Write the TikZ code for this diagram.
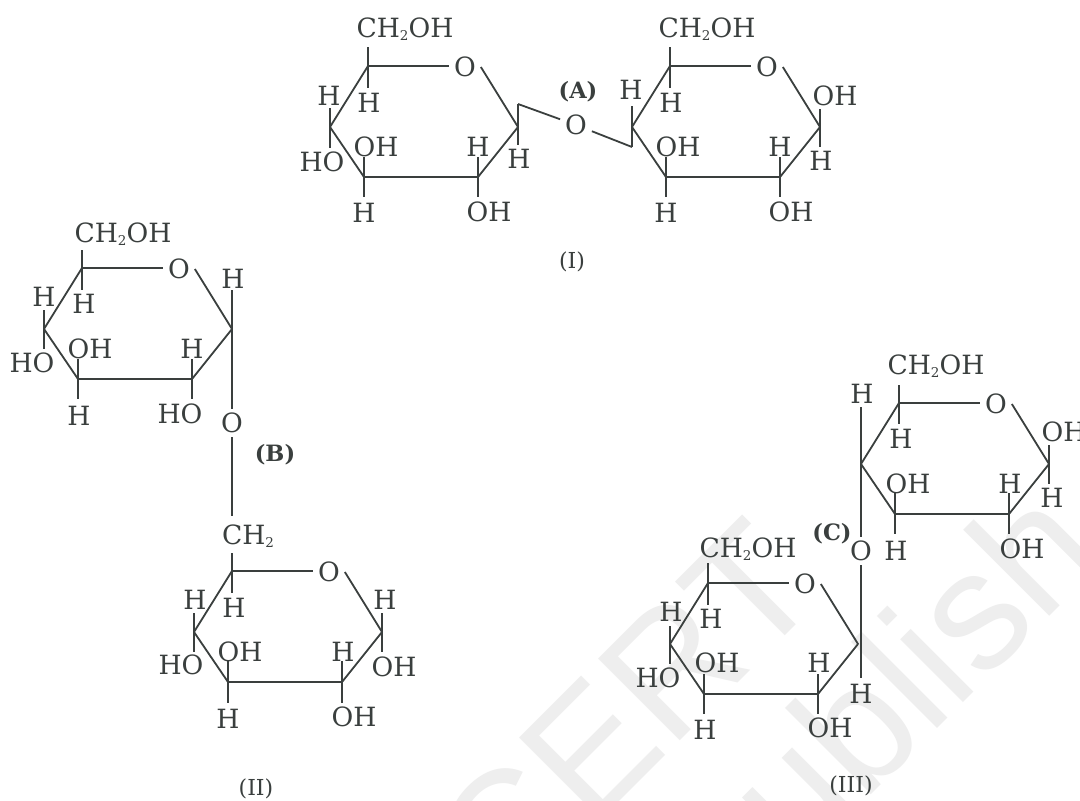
\documentclass[tikz,border=0pt]{standalone}
\usepackage{fontspec}
\setmainfont{DejaVu Serif}
\newfontfamily\wmfont{Liberation Sans}
\definecolor{ink}{HTML}{3A3F3E}
\definecolor{wm}{HTML}{EEEEEE}
\tikzset{
  atom/.style={inner sep=0pt,outer sep=0pt,text=ink,text height=18.5pt,text depth=0pt,anchor=center,font=\fontsize{26.5}{27}\selectfont},
  oxy/.style={atom,inner sep=5pt},
  bond/.style={draw=ink,line width=1.8pt,line join=round},
  thinbond/.style={draw=ink,line width=1.5pt},
  tagtext/.style={inner sep=0pt,text=ink,font=\fontsize{22.5}{24}\selectfont\bfseries},
  captext/.style={inner sep=0pt,text=ink,font=\fontsize{22}{24}\selectfont},
  wmtext/.style={transform shape,inner sep=0pt,text=wm,font=\wmfont\fontsize{168}{168}\selectfont}
}
\newcommand{\ringat}[3]{%
  \begin{scope}[shift={(#2,#3)}]
    \coordinate (#1C1) at (0,0);
    \coordinate (#1R) at (150,61);
    \coordinate (#1BR) at (110,111);
    \coordinate (#1BL) at (-4,111);
    \coordinate (#1L) at (-38,61);
    \node[oxy] (#1O) at (97,1) {O};
  \end{scope}
  \draw[bond] (#1C1) -- (#1C1 -| #1O.west);
  \draw[bond] (#1O.east) -- (#1R) -- (#1BR) -- (#1BL) -- (#1L) -- (#1C1);
}
\newcommand{\stubs}[3]{%
  \draw[thinbond] (#1) -- ++(0,#2) coordinate (#1up);
  \draw[thinbond] (#1) -- ++(0,#3) coordinate (#1dn);
}
\newcommand{\lab}[4]{\node[atom] (#1) at (#2,#3) {#4};}
\newcommand{\chhoh}{CH\raisebox{-3.5pt}{\fontsize{13.5}{14}\selectfont 2}OH}
\begin{document}
\begin{tikzpicture}[x=1pt,y=-1pt]
\useasboundingbox (0,0) rectangle (1080,801);
\clip (0,0) rectangle (1080,801);
\fill[white] (0,0) rectangle (1080,801);
% watermark
\begin{scope}[shift={(827,594)},rotate=45]
  \node[wmtext,anchor=base east] (wmA) at (0,0) {CERT};
\end{scope}
\begin{scope}[shift={(718,948)},rotate=45]
  \node[wmtext,anchor=base west] (wmB) at (0,0) {Publish};
\end{scope}

% ---------- I
\ringat{a}{368}{66}
\stubs{aC1}{-19}{22}\stubs{aL}{-19}{21}\stubs{aBL}{-20}{20}\stubs{aBR}{-20}{20}\stubs{aR}{-23}{18}
\lab{a1}{405}{28}{\chhoh}
\lab{a2}{369}{103}{H}
\lab{a3}{329}{96}{H}
\lab{a4}{322}{162}{HO}
\lab{a5}{376}{147}{OH}
\lab{a6}{364}{213}{H}
\lab{a7}{478}{147}{H}
\lab{a8}{489}{212}{OH}
\lab{a9}{519}{159}{H}
\ringat{b}{670}{66}
\stubs{bC1}{-19}{22}\stubs{bL}{-21}{20}\stubs{bBL}{-20}{20}\stubs{bBR}{-20}{20}\stubs{bR}{-18}{20}
\lab{b1}{707}{28}{\chhoh}
\lab{b2}{671}{103}{H}
\lab{b3}{631}{90}{H}
\lab{b5}{678}{147}{OH}
\lab{b6}{666}{213}{H}
\lab{b7}{780}{147}{H}
\lab{b8}{791}{212}{OH}
\lab{b9}{835}{96}{OH}
\lab{b10}{821}{161}{H}
\node[oxy] (lk1) at (576,125) {O};
\draw[bond] (aRup) -- (lk1);
\draw[bond] (lk1) -- (bLdn);
\node[tagtext] (tagA) at (578,92) {(A)};
\node[captext] (capI) at (572,262) {(I)};

% ---------- II
\ringat{c}{82}{268}
\stubs{cC1}{-18}{22}\stubs{cL}{-19}{20}\stubs{cBL}{-20}{20}\stubs{cBR}{-20}{20}
\coordinate (cRup) at (232,290);
\draw[thinbond] (cR) -- (cRup);
\lab{c1}{123}{233}{\chhoh}
\lab{c2}{84}{304}{H}
\lab{c3}{44}{297}{H}
\lab{c4}{32}{363}{HO}
\lab{c5}{90}{349}{OH}
\lab{c6}{79}{416}{H}
\lab{c7}{192}{349}{H}
\lab{c8}{180}{414}{HO}
\lab{c9}{233}{279}{H}
\node[oxy] (lk2) at (232,423) {O};
\draw[thinbond] (cR) -- (lk2);
\coordinate (lk2end) at (232,516);
\draw[draw=ink,line width=1.1pt] (lk2) -- (lk2end);
\lab{d0}{248}{535}{CH\raisebox{-3.5pt}{\fontsize{13.5}{14}\selectfont 2}}
\ringat{d}{232}{571}
\stubs{dC1}{-18}{22}\stubs{dL}{-19}{20}\stubs{dBL}{-21}{21}\stubs{dBR}{-21}{21}\stubs{dR}{-19}{20}
\lab{d2}{234}{608}{H}
\lab{d3}{195}{600}{H}
\lab{d4}{181}{665}{HO}
\lab{d5}{240}{652}{OH}
\lab{d6}{228}{719}{H}
\lab{d7}{343}{652}{H}
\lab{d8}{354}{717}{OH}
\lab{d9}{385}{600}{H}
\lab{d10}{394}{667}{OH}
\node[tagtext] (tagB) at (275,455) {(B)};
\node[captext] (capII) at (256,789) {(II)};

% ---------- III
\ringat{e}{899}{403}
\stubs{eC1}{-18}{21}\stubs{eBL}{-21}{20}\stubs{eBR}{-21}{20}\stubs{eR}{-19}{20}
\lab{e1}{936}{365}{\chhoh}
\lab{e2}{862}{394}{H}
\lab{e3}{901}{439}{H}
\lab{e5}{908}{484}{OH}
\lab{e6}{896}{551}{H}
\lab{e7}{1010}{484}{H}
\lab{e8}{1022}{549}{OH}
\lab{e9}{1064}{432}{OH}
\lab{e10}{1052}{498}{H}
\node[oxy] (lk3) at (861,551) {O};
\coordinate (eLtop) at (861,407);
\draw[thinbond] (eLtop) -- (lk3);
\ringat{f}{708}{583}
\stubs{fC1}{-20}{22}\stubs{fL}{-18}{20}\stubs{fBL}{-20}{20}\stubs{fBR}{-20}{20}
\coordinate (fHend) at (861,678);
\draw[thinbond] (lk3) -- (fHend);
\lab{f1}{748}{548}{\chhoh}
\lab{f2}{711}{619}{H}
\lab{f3}{671}{612}{H}
\lab{f4}{658}{678}{HO}
\lab{f5}{717}{663}{OH}
\lab{f6}{705}{730}{H}
\lab{f7}{819}{663}{H}
\lab{f8}{830}{728}{OH}
\lab{f9}{861}{694}{H}
\node[tagtext] (tagC) at (832,534) {(C)};
\node[captext] (capIII) at (851,786) {(III)};
\end{tikzpicture}
\end{document}
